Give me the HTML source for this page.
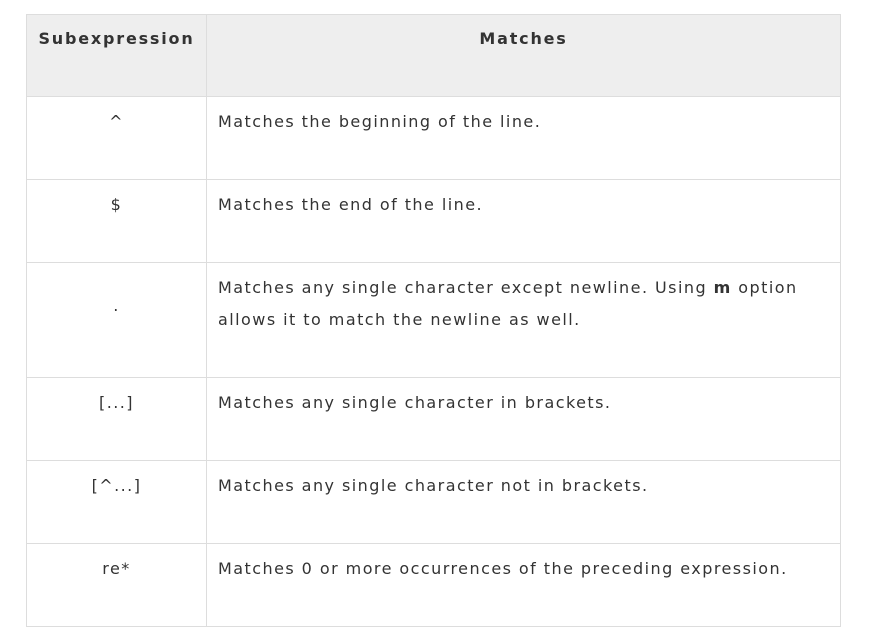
<!DOCTYPE html>
<html><head><meta charset="utf-8"><style>
html,body{margin:0;padding:0;background:#fff;width:870px;height:637px;overflow:hidden}
table{position:absolute;left:26px;top:14px;border-collapse:collapse;table-layout:fixed;width:814px;font-family:"DejaVu Sans",Verdana,sans-serif;font-size:16px;color:#333;letter-spacing:1.45px}
td,th{border:1px solid #ddd;vertical-align:top;padding:9px 11px 7px 11px;line-height:32px;box-sizing:border-box}
th{background:#eee;font-weight:bold;text-align:center;height:82px;padding:8px 0 8px 0;letter-spacing:1.8px}
td.l{text-align:center}
tr.r td{height:83px}
tr.t td{height:115px}
</style></head><body>
<table>
<colgroup><col style="width:180px"><col style="width:634px"></colgroup>
<tr><th>Subexpression</th><th>Matches</th></tr>
<tr class="r"><td class="l">^</td><td>Matches the beginning of the line.</td></tr>
<tr class="r"><td class="l">$</td><td>Matches the end of the line.</td></tr>
<tr class="t"><td class="l" style="padding-top:27px">.</td><td>Matches any single character except newline. Using <b>m</b> option allows it to match the newline as well.</td></tr>
<tr class="r"><td class="l">[...]</td><td>Matches any single character in brackets.</td></tr>
<tr class="r"><td class="l">[^...]</td><td>Matches any single character not in brackets.</td></tr>
<tr class="r"><td class="l">re*</td><td>Matches 0 or more occurrences of the preceding expression.</td></tr>
</table>
</body></html>
